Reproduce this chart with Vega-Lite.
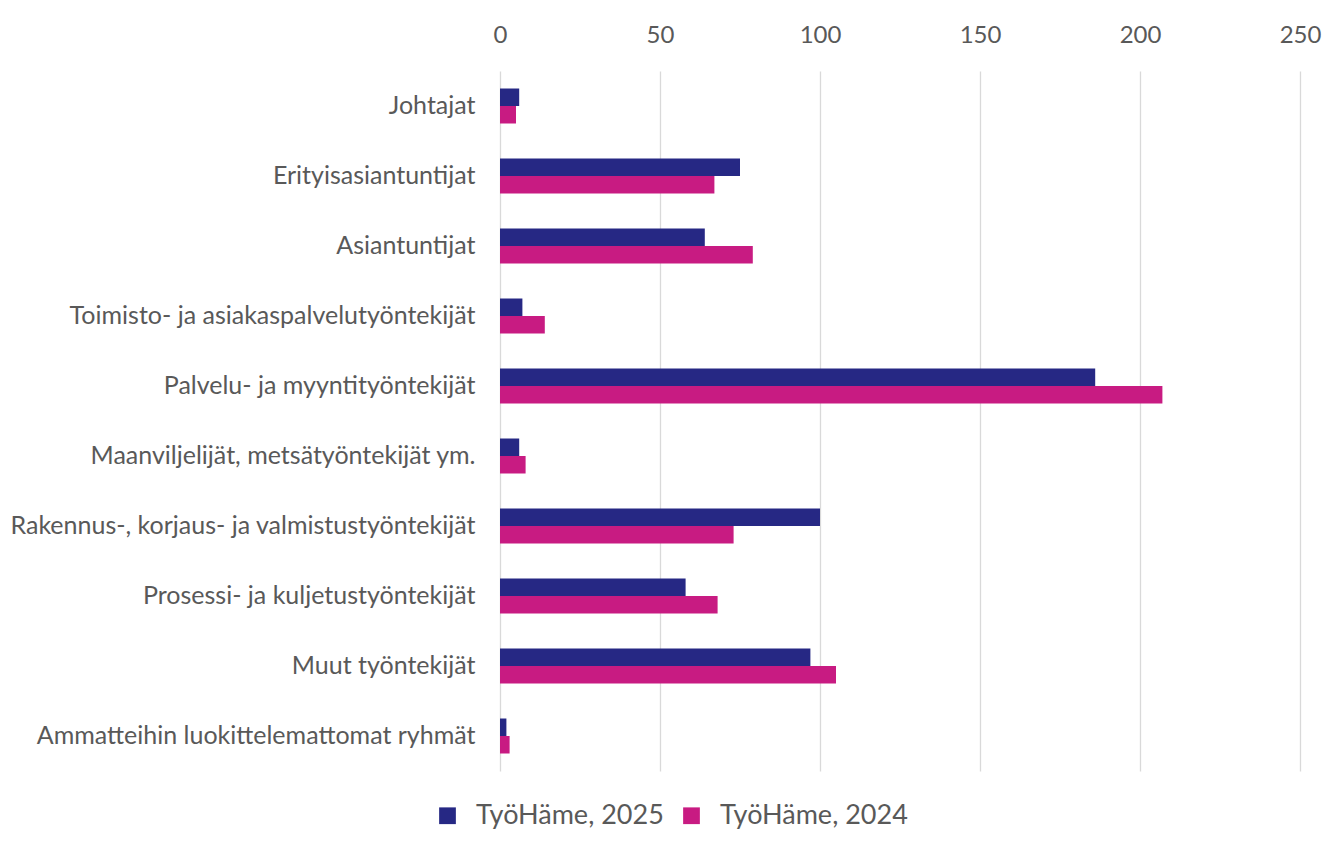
{
  "$schema": "https://vega.github.io/schema/vega-lite/v6.json",
  "autosize": "none",
  "padding": {"left": 500, "top": 71, "right": 41, "bottom": 70},
  "width": 800,
  "height": 700,
  "background": "white",
  "config": {
    "view": {"stroke": null},
    "font": "Lato"
  },
  "data": {
    "values": [
      {"ryhma": "Johtajat", "sarja": "TyöHäme, 2025", "arvo": 6},
      {"ryhma": "Johtajat", "sarja": "TyöHäme, 2024", "arvo": 5},
      {"ryhma": "Erityisasiantuntijat", "sarja": "TyöHäme, 2025", "arvo": 75},
      {"ryhma": "Erityisasiantuntijat", "sarja": "TyöHäme, 2024", "arvo": 67},
      {"ryhma": "Asiantuntijat", "sarja": "TyöHäme, 2025", "arvo": 64},
      {"ryhma": "Asiantuntijat", "sarja": "TyöHäme, 2024", "arvo": 79},
      {"ryhma": "Toimisto- ja asiakaspalvelutyöntekijät", "sarja": "TyöHäme, 2025", "arvo": 7},
      {"ryhma": "Toimisto- ja asiakaspalvelutyöntekijät", "sarja": "TyöHäme, 2024", "arvo": 14},
      {"ryhma": "Palvelu- ja myyntityöntekijät", "sarja": "TyöHäme, 2025", "arvo": 186},
      {"ryhma": "Palvelu- ja myyntityöntekijät", "sarja": "TyöHäme, 2024", "arvo": 207},
      {"ryhma": "Maanviljelijät, metsätyöntekijät ym.", "sarja": "TyöHäme, 2025", "arvo": 6},
      {"ryhma": "Maanviljelijät, metsätyöntekijät ym.", "sarja": "TyöHäme, 2024", "arvo": 8},
      {"ryhma": "Rakennus-, korjaus- ja valmistustyöntekijät", "sarja": "TyöHäme, 2025", "arvo": 100},
      {"ryhma": "Rakennus-, korjaus- ja valmistustyöntekijät", "sarja": "TyöHäme, 2024", "arvo": 73},
      {"ryhma": "Prosessi- ja kuljetustyöntekijät", "sarja": "TyöHäme, 2025", "arvo": 58},
      {"ryhma": "Prosessi- ja kuljetustyöntekijät", "sarja": "TyöHäme, 2024", "arvo": 68},
      {"ryhma": "Muut työntekijät", "sarja": "TyöHäme, 2025", "arvo": 97},
      {"ryhma": "Muut työntekijät", "sarja": "TyöHäme, 2024", "arvo": 105},
      {"ryhma": "Ammatteihin luokittelemattomat ryhmät", "sarja": "TyöHäme, 2025", "arvo": 2},
      {"ryhma": "Ammatteihin luokittelemattomat ryhmät", "sarja": "TyöHäme, 2024", "arvo": 3}
    ]
  },
  "mark": {"type": "bar"},
  "encoding": {
    "y": {
      "field": "ryhma",
      "type": "nominal",
      "sort": null,
      "scale": {"paddingInner": 0.5, "paddingOuter": 0.25},
      "axis": {
        "title": null,
        "domain": false,
        "ticks": false,
        "labelFontSize": 25,
        "labelColor": "#595959",
        "labelPadding": 25,
        "labelLimit": 600
      }
    },
    "yOffset": {
      "field": "sarja",
      "type": "nominal",
      "sort": ["TyöHäme, 2025", "TyöHäme, 2024"]
    },
    "x": {
      "field": "arvo",
      "type": "quantitative",
      "scale": {"domain": [0, 250]},
      "axis": {
        "orient": "top",
        "title": null,
        "domain": false,
        "ticks": false,
        "values": [0, 50, 100, 150, 200, 250],
        "labelFlush": false,
        "labelFontSize": 24,
        "labelColor": "#595959",
        "labelPadding": 24,
        "gridColor": "#d9d9d9",
        "gridWidth": 1.3
      }
    },
    "color": {
      "field": "sarja",
      "type": "nominal",
      "scale": {"domain": ["TyöHäme, 2025", "TyöHäme, 2024"], "range": ["#262884", "#C81B82"]},
      "legend": {
        "orient": "none",
        "legendX": -66,
        "legendY": 731,
        "direction": "horizontal",
        "title": null,
        "symbolType": "square",
        "symbolSize": 280,
        "symbolStrokeWidth": 0,
        "labelFontSize": 27,
        "labelLimit": 400,
        "labelColor": "#595959",
        "labelOffset": 15,
        "columnPadding": 14
      }
    }
  }
}
